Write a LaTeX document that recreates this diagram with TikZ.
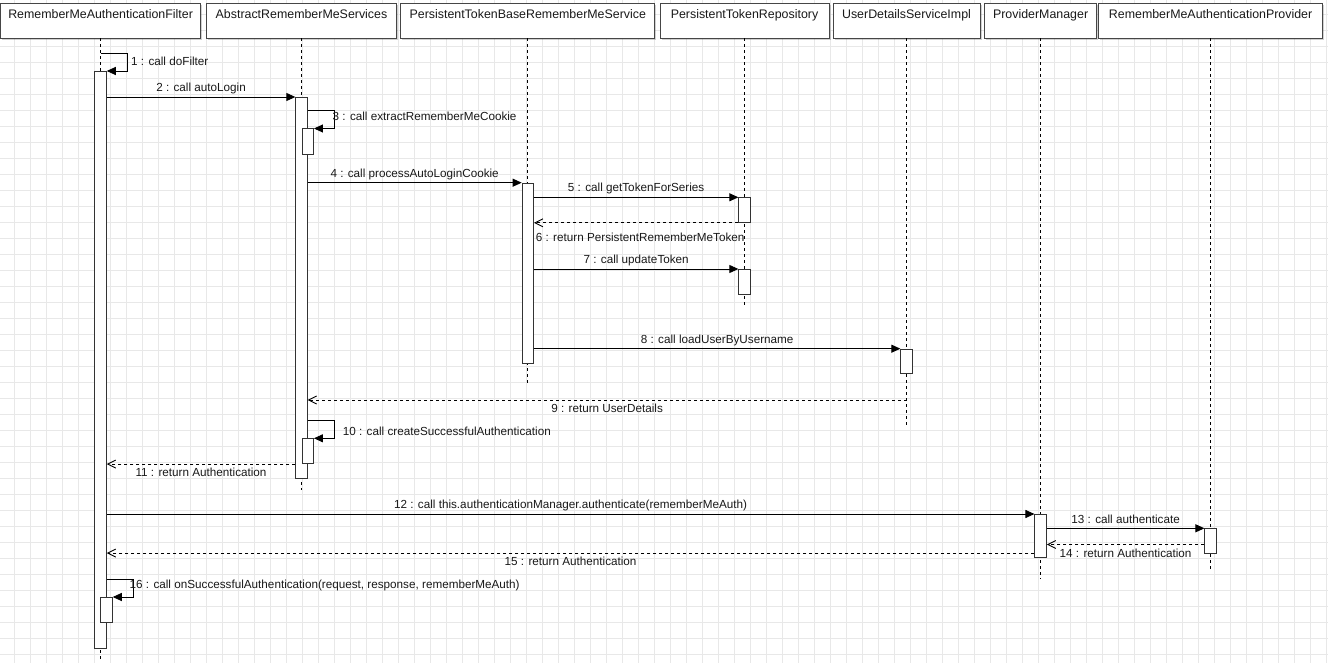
\documentclass[tikz,border=0pt]{standalone}
\usepackage{fontspec}
\setmainfont{Liberation Sans}
\usetikzlibrary{arrows.meta,calc,shadows}
\definecolor{gridc}{RGB}{232,232,232}
\definecolor{txtc}{RGB}{25,25,25}
\definecolor{boxc}{RGB}{70,70,70}
\begin{document}
\begin{tikzpicture}[x=1pt,y=-1pt,
  hdr/.style={draw=boxc, fill=white, line width=0.9pt, minimum height=35pt, inner sep=0pt,
    font=\fontsize{12.4}{14}\selectfont, text=txtc, text height=8.9pt, text depth=13pt,
    drop shadow={shadow xshift=1.5pt, shadow yshift=-2.5pt, fill=black, opacity=0.18}},
  bar/.style={draw=black!80, fill=white, line width=0.8pt, minimum width=11.5pt, inner sep=0pt, anchor=north},
  life/.style={draw=black, line width=0.8pt, dash pattern=on 3pt off 3pt},
  call/.style={draw=black, line width=0.9pt, -{Triangle[length=9pt,width=8pt]}},
  ret/.style={draw=black, line width=0.9pt, dash pattern=on 3pt off 3pt, -{Straight Barb[length=8pt,width=8pt]}},
  lbl/.style={font=\fontsize{11.7}{13}\selectfont, text=txtc, text height=8.4pt, text depth=0pt, inner sep=0pt},
  la/.style={lbl, midway, yshift=9.5pt},
  lb/.style={lbl, midway, yshift=-8.5pt},
  sl/.style={lbl, anchor=west},
]
\useasboundingbox[fill=white] (0,0) rectangle (1328,663);
% grid
\foreach \i in {0,...,82} \draw[gridc, line width=0.8pt] ({14.3+16*\i},0) -- ({14.3+16*\i},663);
\foreach \j in {0,...,40} \draw[gridc, line width=0.8pt] (0,{14.7+16*\j}) -- (1328,{14.7+16*\j});

% headers
\node[hdr, minimum width=200.5pt] (h1) at (100.6,20.5) {RememberMeAuthenticationFilter};
\node[hdr, minimum width=190pt] (h2) at (301.5,20.5) {AbstractRememberMeServices};
\node[hdr, minimum width=254pt] (h3) at (527.8,20.5) {PersistentTokenBaseRememberMeService};
\node[hdr, minimum width=169pt] (h4) at (744.5,20.5) {PersistentTokenRepository};
\node[hdr, minimum width=147pt] (h5) at (906.5,20.5) {UserDetailsServiceImpl};
\node[hdr, minimum width=112pt] (h6) at (1040.6,20.5) {ProviderManager};
\node[hdr, minimum width=224pt] (h7) at (1210.6,20.5) {RememberMeAuthenticationProvider};

% lifeline ends
\coordinate (e1) at (100.6,660);
\coordinate (e2) at (301.5,490);
\coordinate (e3) at (527.8,386);
\coordinate (e4) at (744.5,305);
\coordinate (e5) at (906.5,425);
\coordinate (e6) at (1040.6,579);
\coordinate (e7) at (1210.6,570);
\foreach \k in {1,...,7} \draw[life] (h\k.south) -- (e\k);

% activation bars
\node[bar, minimum height=577pt] (b1) at (100.6,71) {};
\node[bar, minimum height=25pt] (b1a) at (106.6,597) {};
\node[bar, minimum height=381pt] (b2) at (301.5,97) {};
\node[bar, minimum height=25.5pt] (b2a) at (307.8,128.5) {};
\node[bar, minimum height=25pt] (b2b) at (307.8,438.3) {};
\node[bar, minimum height=180pt] (b3) at (527.8,182.7) {};
\node[bar, minimum height=24.7pt] (b4a) at (744.5,197.3) {};
\node[bar, minimum height=25pt] (b4b) at (744.5,269) {};
\node[bar, minimum height=24.6pt] (b5) at (906.5,348.7) {};
\node[bar, minimum height=43pt] (b6) at (1040.6,514) {};
\node[bar, minimum height=25pt] (b7) at (1210.6,528.3) {};

% 1
\coordinate (s1) at (100.6,53);
\draw[call] (s1) -| ($(b1.north east)+(21,0)$) -- (b1.north east);
\node[sl] (t1) at (131,61) {1 : call doFilter};
% 2
\draw[call] (b1.east |- b2.north) -- (b2.north west) node[la] (t2) {2 : call autoLogin};
% 3
\draw[call] ($(b2.east |- b2a.north)+(0,-17.6)$) -| ($(b2a.north east)+(20.6,0)$) -- (b2a.north east);
\node[sl] (t3) at (332.5,116) {3 : call extractRememberMeCookie};
% 4
\draw[call] (b2.east |- b3.north) -- (b3.north west) node[la] (t4) {4 : call processAutoLoginCookie};
% 5
\draw[call] (b3.east |- b4a.north) -- (b4a.north west) node[la] (t5) {5 : call getTokenForSeries};
% 6
\draw[ret] (b4a.south west) -- (b3.east |- b4a.south) node[lbl, midway, yshift=-15pt, xshift=4pt] (t6) {6 : return PersistentRememberMeToken};
% 7
\draw[call] (b3.east |- b4b.north) -- (b4b.north west) node[la] (t7) {7 : call updateToken};
% 8
\draw[call] (b3.east |- b5.north) -- (b5.north west) node[la] (t8) {8 : call loadUserByUsername};
% 9
\coordinate (r9) at (906.5,400);
\draw[ret] (r9) -- (b2.east |- r9) node[lb] (t9) {9 : return UserDetails};
% 10
\draw[call] ($(b2.east |- b2b.north)+(0,-17.6)$) -| ($(b2b.north east)+(20.6,0)$) -- (b2b.north east);
\node[sl] (t10) at (342.7,431.7) {10 : call createSuccessfulAuthentication};
% 11
\draw[ret] (b2.west |- b2b.south) -- (b1.east |- b2b.south) node[lb] (t11) {11 : return Authentication};
% 12
\draw[call] (b1.east |- b6.north) -- (b6.north west) node[la] (t12) {12 : call this.authenticationManager.authenticate(rememberMeAuth)};
% 13
\draw[call] (b6.east |- b7.north) -- (b7.north west) node[la] (t13) {13 : call authenticate};
% 14
\draw[ret] ($(b7.north west)+(0,16.2)$) -- ($(b6.east |- b7.north)+(0,16.2)$) node[lb] (t14) {14 : return Authentication};
% 15
\draw[ret] ($(b6.south west)+(0,-4.7)$) -- ($(b1.east |- b6.south)+(0,-4.7)$) node[lb] (t15) {15 : return Authentication};
% 16
\draw[call] ($(b1.east |- b1a.north)+(0,-18)$) -| ($(b1a.north east)+(21,0)$) -- (b1a.north east);
\node[sl] (t16) at (129.5,584) {16 : call onSuccessfulAuthentication(request, response, rememberMeAuth)};
\end{tikzpicture}
\end{document}
